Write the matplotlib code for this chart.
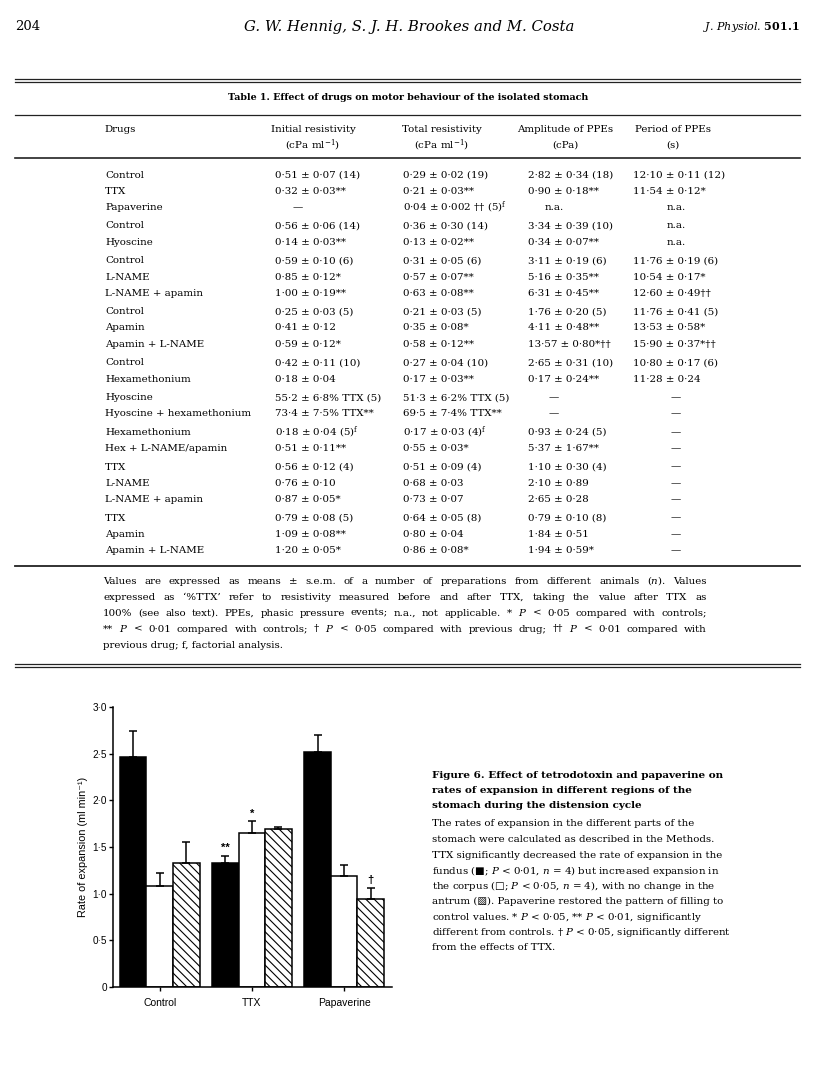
import matplotlib
matplotlib.use("Agg")
import matplotlib.pyplot as plt

# table 1 data
drugs = ["Control", "TTX", "Papaverine",
         "Control", "Hyoscine",
         "Control", "L-NAME", "L-NAME + apamin",
         "Control", "Apamin", "Apamin + L-NAME",
         "Control", "Hexamethonium",
         "Hyoscine", "Hyoscine + hexamethonium",
         "Hexamethonium", "Hex + L-NAME/apamin",
         "TTX", "L-NAME", "L-NAME + apamin",
         "TTX", "Apamin", "Apamin + L-NAME"]
row_group = [0, 0, 0, 1, 1, 2, 2, 2, 3, 3, 3, 4, 4, 5, 5, 6, 6, 7, 7, 7, 8, 8, 8]

initial = ["0·51 ± 0·07 (14)", "0·32 ± 0·03**", "—",
           "0·56 ± 0·06 (14)", "0·14 ± 0·03**",
           "0·59 ± 0·10 (6)", "0·85 ± 0·12*", "1·00 ± 0·19**",
           "0·25 ± 0·03 (5)", "0·41 ± 0·12", "0·59 ± 0·12*",
           "0·42 ± 0·11 (10)", "0·18 ± 0·04",
           "55·2 ± 6·8% TTX (5)", "73·4 ± 7·5% TTX**",
           "0·18 ± 0·04 (5)$^{\\rm f}$", "0·51 ± 0·11**",
           "0·56 ± 0·12 (4)", "0·76 ± 0·10", "0·87 ± 0·05*",
           "0·79 ± 0·08 (5)", "1·09 ± 0·08**", "1·20 ± 0·05*"]
total = ["0·29 ± 0·02 (19)", "0·21 ± 0·03**", "0·04 ± 0·002 †† (5)$^{\\rm f}$",
         "0·36 ± 0·30 (14)", "0·13 ± 0·02**",
         "0·31 ± 0·05 (6)", "0·57 ± 0·07**", "0·63 ± 0·08**",
         "0·21 ± 0·03 (5)", "0·35 ± 0·08*", "0·58 ± 0·12**",
         "0·27 ± 0·04 (10)", "0·17 ± 0·03**",
         "51·3 ± 6·2% TTX (5)", "69·5 ± 7·4% TTX**",
         "0·17 ± 0·03 (4)$^{\\rm f}$", "0·55 ± 0·03*",
         "0·51 ± 0·09 (4)", "0·68 ± 0·03", "0·73 ± 0·07",
         "0·64 ± 0·05 (8)", "0·80 ± 0·04", "0·86 ± 0·08*"]
amplitude = ["2·82 ± 0·34 (18)", "0·90 ± 0·18**", "n.a.",
             "3·34 ± 0·39 (10)", "0·34 ± 0·07**",
             "3·11 ± 0·19 (6)", "5·16 ± 0·35**", "6·31 ± 0·45**",
             "1·76 ± 0·20 (5)", "4·11 ± 0·48**", "13·57 ± 0·80*††",
             "2·65 ± 0·31 (10)", "0·17 ± 0·24**",
             "—", "—",
             "0·93 ± 0·24 (5)", "5·37 ± 1·67**",
             "1·10 ± 0·30 (4)", "2·10 ± 0·89", "2·65 ± 0·28",
             "0·79 ± 0·10 (8)", "1·84 ± 0·51", "1·94 ± 0·59*"]
period = ["12·10 ± 0·11 (12)", "11·54 ± 0·12*", "n.a.",
          "n.a.", "n.a.",
          "11·76 ± 0·19 (6)", "10·54 ± 0·17*", "12·60 ± 0·49††",
          "11·76 ± 0·41 (5)", "13·53 ± 0·58*", "15·90 ± 0·37*††",
          "10·80 ± 0·17 (6)", "11·28 ± 0·24",
          "—", "—", "—", "—", "—", "—", "—", "—", "—", "—"]
headers = [("Initial resistivity", "(cPa ml$^{-1}$)"),
           ("Total resistivity", "(cPa ml$^{-1}$)"),
           ("Amplitude of PPEs", "(cPa)"),
           ("Period of PPEs", "(s)")]

footnote = [
    "Values are expressed as means ± s.e.m. of a number of preparations from different animals ($n$). Values",
    "expressed as ‘%TTX’ refer to resistivity measured before and after TTX, taking the value after TTX as",
    "100% (see also text). PPEs, phasic pressure events; n.a., not applicable. * $P$ < 0·05 compared with controls;",
    "** $P$ < 0·01 compared with controls; † $P$ < 0·05 compared with previous drug; †† $P$ < 0·01 compared with",
    "previous drug; f, factorial analysis.",
]

# figure 6 data
conditions = ["Control", "TTX", "Papaverine"]
fundus = [2.46, 1.33, 2.52]
fundus_err = [0.28, 0.075, 0.18]
corpus = [1.08, 1.65, 1.19]
corpus_err = [0.145, 0.125, 0.12]
antrum = [1.33, 1.69, 0.94]
antrum_err = [0.22, 0.02, 0.12]
fundus_sig = ["", "**", ""]
corpus_sig = ["", "*", ""]
antrum_sig = ["", "", "†"]
yticks = [0, 0.5, 1.0, 1.5, 2.0, 2.5, 3.0]
ytick_labels = ["0", "0·5", "1·0", "1·5", "2·0", "2·5", "3·0"]

caption_bold = ["Figure 6. Effect of tetrodotoxin and papaverine on",
                "rates of expansion in different regions of the",
                "stomach during the distension cycle"]
caption = ["The rates of expansion in the different parts of the",
           "stomach were calculated as described in the Methods.",
           "TTX significantly decreased the rate of expansion in the",
           "fundus (■; $P$ < 0·01, $n$ = 4) but increased expansion in",
           "the corpus (□; $P$ < 0·05, $n$ = 4), with no change in the",
           "antrum (▧). Papaverine restored the pattern of filling to",
           "control values. * $P$ < 0·05, ** $P$ < 0·01, significantly",
           "different from controls. † $P$ < 0·05, significantly different",
           "from the effects of TTX."]

plt.rcParams["mathtext.fontset"] = "dejavuserif"
plt.rcParams["hatch.linewidth"] = 0.8
SERIF = ["DejaVu Serif", "DejaVu Sans"]
SANS = ["Liberation Sans", "DejaVu Sans"]

W, H = 816, 1088
fig = plt.figure(figsize=(W / 100, H / 100), dpi=100)


def X(px):
    return px / W


def Y(py):
    return 1 - py / H


def rule(y, x0=15, x1=800, lw=0.9):
    fig.add_artist(plt.Line2D([X(x0), X(x1)], [Y(y), Y(y)], color="#222222", lw=lw))


# page header
fig.text(X(15), Y(27), "204", family=SERIF, size=9.5, va="center")
fig.text(X(409), Y(27), "G. W. Hennig, S. J. H. Brookes and M. Costa", family=SERIF,
         style="italic", size=10.7, ha="center", va="center")
fig.text(X(800), Y(27), "J. Physiol. $\\mathbf{501.1}$", family=SERIF, style="italic",
         size=8, ha="right", va="center")

# table
rule(79)
rule(82)
fig.text(X(408), Y(97), "Table 1. Effect of drugs on motor behaviour of the isolated stomach",
         family=SERIF, weight="bold", size=6.8, ha="center", va="center")
rule(115)
fig.text(X(104), Y(130), "Drugs", family=SERIF, size=7.4, va="center")
for cx, (h1, h2) in zip([313, 442, 565, 673], headers):
    fig.text(X(cx), Y(130), h1, family=SERIF, size=7.4, ha="center", va="center")
    fig.text(X(cx), Y(145), h2, family=SERIF, size=7.4, ha="center", va="center")
rule(158, lw=1.2)

col_left = [275, 403, 528, 633]
col_mid = [298, 428, 554, 676]
for i, name in enumerate(drugs):
    y = 175 + 16.2 * i + 2.4 * row_group[i]
    fig.text(X(105), Y(y), name, family=SERIF, size=7.4, va="center")
    for c, col in enumerate([initial, total, amplitude, period]):
        s = col[i]
        if s in ("—", "n.a."):
            fig.text(X(col_mid[c]), Y(y), s, family=SERIF, size=7.4, ha="center", va="center")
        else:
            fig.text(X(col_left[c]), Y(y), s, family=SERIF, size=7.4, va="center")
rule(566, lw=1.3)

# justified footnote
renderer = fig.canvas.get_renderer()
for k, line in enumerate(footnote):
    y = Y(581 + 16 * k)
    if k == len(footnote) - 1:
        fig.text(X(103), y, line, family=SERIF, size=7.4, va="center")
        continue
    words = line.split(" ")
    texts = [fig.text(0, y, w, family=SERIF, size=7.4, va="center") for w in words]
    widths = [t.get_window_extent(renderer).width for t in texts]
    gap = (707 - 103 - sum(widths)) / (len(words) - 1)
    x = 103
    for t, w in zip(texts, widths):
        t.set_x(X(x))
        x += w + gap
rule(664)
rule(667)

# figure 6
ax = fig.add_axes([X(113), Y(987), (392 - 113) / W, (987 - 707) / H])
pos = list(range(len(conditions)))
bw = 0.288
series = [(fundus, fundus_err, fundus_sig, "black", ""),
          (corpus, corpus_err, corpus_sig, "white", ""),
          (antrum, antrum_err, antrum_sig, "white", "\\\\\\\\")]
for j, (vals, errs, sig, fc, hatch) in enumerate(series):
    xs = [p + (j - 1) * bw for p in pos]
    ax.bar(xs, vals, bw, color=fc, edgecolor="black", linewidth=1.1, hatch=hatch, zorder=2)
    ax.errorbar(xs, vals, yerr=[[0] * len(vals), errs], fmt="none", ecolor="black",
                elinewidth=1.1, capsize=2.6, capthick=1.1, zorder=3)
    for x, v, e, s in zip(xs, vals, errs, sig):
        if s:
            ax.annotate(s, (x, v + e), xytext=(0, 2), textcoords="offset points",
                        ha="center", va="bottom", family=SANS, size=8, weight="bold")

ax.set_xlim(-0.507, 2.52)
ax.set_ylim(0, 3.0)
ax.set_xticks(pos)
ax.set_xticklabels(conditions, family=SANS, size=7.5)
ax.set_yticks(yticks)
ax.set_yticklabels(ytick_labels, family=SANS, size=7.2)
ax.tick_params(length=3, width=1, pad=1.5)
ax.tick_params(axis="x", pad=5)
for sp in ["top", "right"]:
    ax.spines[sp].set_visible(False)
for sp in ["left", "bottom"]:
    ax.spines[sp].set_linewidth(1.1)
fig.text(X(83), Y(847), "Rate of expansion (ml min⁻¹)", family=SANS, size=7.8,
         rotation=90, ha="center", va="center")

# caption
for k, line in enumerate(caption_bold):
    fig.text(X(432), Y(775 + 15.5 * k), line, family=SERIF, weight="bold", size=7.45, va="center")
for k, line in enumerate(caption):
    fig.text(X(432), Y(824 + 15.5 * k), line, family=SERIF, size=7.4, va="center")

fig.savefig("out.png", dpi=100)
